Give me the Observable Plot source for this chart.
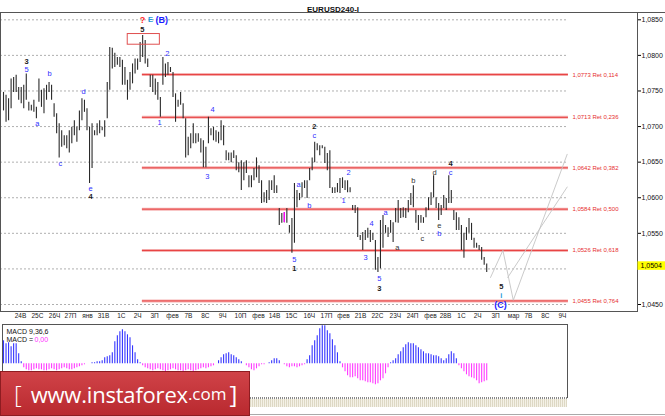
<!DOCTYPE html>
<html>
<head>
<meta charset="utf-8">
<script src="https://cdn.jsdelivr.net/npm/d3@7"></script>
<script src="https://cdn.jsdelivr.net/npm/@observablehq/plot@0.6"></script>
<style>
  body { margin: 0; background: #fff; font-family: "Liberation Sans", Arial, sans-serif; }
  #wrap { position: relative; width: 665px; height: 416px; overflow: hidden; background: #fff; }
  #price, #macd { position: absolute; left: 0; }
  #price { top: 0; }
  #macd { top: 322px; }
  #topline { position: absolute; left: 637px; top: 11.5px; width: 28px; height: 1px; background: #555; }
  #strip { position: absolute; left: 0; top: 397px; width: 567px; height: 10px;
    background: repeating-linear-gradient(90deg, #888 0 1px, #fff 1px 2px) top/100% 2px no-repeat,
                repeating-linear-gradient(90deg, #ddd8c4 0 1px, #f4f1e6 1px 2px); }
  #botline { position: absolute; left: 250px; top: 414px; width: 415px; height: 1px; background: #aaa; }
  #banner { position: absolute; left: 0; top: 371px; width: 250px; height: 45px; box-sizing: border-box;
    background: linear-gradient(#d04348, #b9292f); border: 1px solid #8e1c21; color: #fff;
    font-family: "Open Sans", "Liberation Sans", sans-serif; display: flex; align-items: center; padding-left: 13px; white-space: nowrap; }
  #banner .br { font-size: 24px; font-weight: 300; }
  #banner .www { font-size: 22px; margin-left: 9px; letter-spacing: -0.2px; }
  #banner .com { font-size: 17px; }
  #banner .br2 { font-size: 24px; margin-left: 3px; }
</style>
</head>
<body>
<div id="wrap">
  <div id="price"></div>
  <div id="topline"></div>
  <div id="macd"></div>
  <div id="strip"></div>
  <div id="botline"></div>
  <div id="banner"><span class="br">[</span><span class="www">www.instaforex</span><span class="com">.com</span><span class="br2">]</span></div>
</div>
<script>
// EURUSD 4h bars, highs and lows
const hi = [
  1.0748,1.0744,1.0739,1.0767,1.0769,1.0772,1.0755,1.0755,1.0758,1.0774,
  1.0734,1.0730,1.0737,1.0727,1.0767,1.0751,1.0753,1.0758,1.0762,1.0758,
  1.0732,1.0718,1.0704,1.0694,1.0687,1.0687,1.0694,1.0699,1.0708,1.0699,
  1.0722,1.0739,1.0737,1.0725,1.0699,1.0704,1.0694,1.0704,1.0708,1.0699,
  1.0708,1.0762,1.0811,1.0810,1.0803,1.0797,1.0797,1.0793,1.0783,1.0765,
  1.0776,1.0788,1.0795,1.0795,1.0818,1.0828,1.0821,1.0795,1.0772,1.0772,
  1.0767,1.0762,1.0741,1.0797,1.0788,1.0790,1.0783,1.0776,1.0746,1.0737,
  1.0748,1.0732,1.0711,1.0685,1.0690,1.0704,1.0690,1.0690,1.0683,1.0680,
  1.0671,1.0713,1.0697,1.0699,1.0694,1.0692,1.0708,1.0701,1.0666,1.0663,
  1.0663,1.0666,1.0659,1.0649,1.0652,1.0649,1.0652,1.0631,1.0631,1.0641,
  1.0656,1.0645,1.0624,1.0607,1.0610,1.0624,1.0624,1.0631,1.0617,1.0585,
  1.0578,1.0579,1.0585,1.0561,1.0571,1.0620,1.0610,1.0606,1.0621,1.0624,
  1.0624,1.0641,1.0656,1.0678,1.0676,1.0673,1.0673,1.0671,1.0662,1.0666,
  1.0614,1.0614,1.0620,1.0627,1.0628,1.0624,1.0624,1.0614,1.0589,1.0589,
  1.0586,1.0547,1.0551,1.0554,1.0557,1.0554,1.0550,1.0540,1.0516,1.0568,
  1.0575,1.0561,1.0558,1.0568,1.0565,1.0585,1.0596,1.0585,1.0586,1.0585,
  1.0596,1.0606,1.0617,1.0582,1.0575,1.0575,1.0572,1.0586,1.0600,1.0607,
  1.0631,1.0600,1.0592,1.0589,1.0603,1.0599,1.0631,1.0610,1.0582,1.0579,
  1.0572,1.0561,1.0550,1.0558,1.0571,1.0564,1.0543,1.0536,1.0533,1.0530,
  1.0516,1.0507
];
const lo = [
  1.0722,1.0706,1.0708,1.0725,1.0748,1.0748,1.0737,1.0732,1.0725,1.0737,
  1.0722,1.0722,1.0720,1.0711,1.0734,1.0727,1.0718,1.0737,1.0748,1.0737,
  1.0713,1.0690,1.0656,1.0671,1.0673,1.0669,1.0663,1.0676,1.0687,1.0678,
  1.0694,1.0708,1.0720,1.0694,1.0620,1.0641,1.0687,1.0687,1.0690,1.0694,
  1.0685,1.0711,1.0751,1.0781,1.0783,1.0786,1.0783,1.0758,1.0758,1.0737,
  1.0751,1.0760,1.0774,1.0779,1.0790,1.0797,1.0788,1.0783,1.0755,1.0748,
  1.0744,1.0737,1.0713,1.0758,1.0769,1.0772,1.0776,1.0741,1.0706,1.0727,
  1.0730,1.0711,1.0656,1.0659,1.0669,1.0676,1.0676,1.0678,1.0663,1.0642,
  1.0642,1.0676,1.0687,1.0680,1.0678,1.0676,1.0680,1.0673,1.0652,1.0652,
  1.0649,1.0655,1.0638,1.0635,1.0610,1.0624,1.0634,1.0614,1.0614,1.0624,
  1.0628,1.0620,1.0592,1.0593,1.0592,1.0596,1.0610,1.0606,1.0606,1.0561,
  1.0564,1.0565,1.0564,1.0550,1.0522,1.0536,1.0586,1.0596,1.0600,1.0613,
  1.0599,1.0624,1.0638,1.0649,1.0666,1.0659,1.0669,1.0648,1.0638,1.0613,
  1.0606,1.0606,1.0607,1.0606,1.0613,1.0610,1.0607,1.0607,1.0582,1.0578,
  1.0544,1.0540,1.0526,1.0540,1.0543,1.0537,1.0540,1.0498,1.0495,1.0500,
  1.0529,1.0550,1.0544,1.0550,1.0537,1.0565,1.0564,1.0571,1.0572,1.0571,
  1.0579,1.0589,1.0586,1.0564,1.0554,1.0564,1.0564,1.0572,1.0582,1.0589,
  1.0600,1.0585,1.0568,1.0575,1.0585,1.0582,1.0592,1.0592,1.0568,1.0554,
  1.0554,1.0526,1.0515,1.0540,1.0550,1.0540,1.0529,1.0529,1.0526,1.0512,
  1.0505,1.0495
];
const lastClose = 1.0504;
const markedBar = 111; // the one magenta bar

// MACD 9,36,6 histogram (x0.001)
const macd = [
  2.3,2.0,2.1,1.7,2.0,2.0,1.0,0.2,
  -0.4,-0.6,-0.7,-0.7,-0.6,-0.5,-0.6,-0.6,-0.7,-0.7,-0.6,-0.5,-0.6,-0.7,-0.6,-0.5,-0.4,-0.5,-0.6,-0.6,-0.5,-0.4,-0.3,-0.2,-0.1,0.0,
  0.0,0.1,0.1,0.2,0.2,0.3,0.6,0.7,0.8,1.1,2.2,2.8,3.2,3.4,3.2,2.9,2.6,1.8,1.1,0.4,0.1,
  -0.2,-0.4,-0.5,-0.6,-0.7,-0.6,-0.5,-0.6,-0.7,-0.8,-0.7,-0.6,-0.5,-0.6,-0.7,-0.7,-0.8,-0.7,-0.6,-0.7,-0.8,-0.7,-0.6,-0.5,-0.4,-0.5,-0.4,-0.3,-0.2,
  0.0,0.3,0.6,0.9,1.0,1.1,0.9,0.8,0.6,0.4,0.2,0.0,
  -0.2,-0.4,-0.6,-0.7,-0.5,-0.3,-0.1,-0.1,0.0,
  0.1,0.3,0.5,0.5,0.3,0.0,
  -0.1,-0.3,-0.4,-0.3,-0.3,-0.4,-0.3,-0.2,-0.1,
  0.4,0.8,1.8,2.3,2.8,3.5,3.8,3.8,3.3,3.0,2.4,1.8,1.1,0.2,
  -0.4,-0.8,-1.2,-1.4,-1.4,-1.3,-1.5,-1.7,-1.7,-1.8,-1.9,-1.9,-2.0,-2.1,-2.0,-1.7,-1.5,-1.0,-0.4,
  0.1,0.3,0.5,0.9,1.2,1.6,1.9,2.1,2.0,2.0,1.8,1.6,1.4,1.2,1.0,1.0,0.9,0.8,0.8,0.7,0.5,0.3,0.5,0.9,1.2,1.0,0.5,
  -0.2,-0.5,-0.8,-1.1,-1.3,-1.4,-1.5,-1.7,-2.0,-1.9,-1.8,-1.7
];

// time axis labels and the bar slot they sit on
const dayLabels = ["24В","25С","26Ч","27П","янв","31В","1С","2Ч","3П","фев","7В","8С","9Ч","10П","фев","14В","15С","16Ч","17П",
                   "фев","21В","22С","23Ч","24П","фев","28В","1С","2Ч","3П","мар","7В","8С","9Ч"];
const dayPos = [6.7,13.4,20.2,26.5,33.2,39.5,46.6,53.0,59.7,66.8,73.1,79.8,86.6,93.7,100.8,107.1,113.8,120.9,127.7,
                134.4,141.1,147.8,154.9,161.7,168.8,174.7,181.0,187.4,194.5,201.6,207.5,214.2,220.9];

const gridPrices = [1.0850,1.0800,1.0750,1.0700,1.0650,1.0600,1.0550,1.0500,1.0450];

// Fibonacci retracement levels
const fibPrice = [1.0773,1.0713,1.0642,1.0584,1.0526,1.0455];
const fibRet = [0.114,0.236,0.382,0.500,0.618,0.764];
const fibFromBar = 54.9, fibToBar = 223.3;

// wave marks
const waveText = ["3","5","a","b","c","d","e","4","?","E","(B)","5","1","2","4","3","2","c","a","b","5","1",
                  "2","1","3","4","5","3","a","a","b","c","d","e","b","c","4","5","i","(C)"];
const waveBar = [9.1,9.1,13.4,18.2,22.5,31.6,34.4,34.4,54.9,58.1,62.5,54.9,61.7,64.8,82.6,80.6,122.9,122.9,116.6,120.9,115,115,
                 136.4,134.4,143.1,145.5,148.6,148.6,151,155.7,162,165.6,170.4,172.3,172.3,176.7,176.7,196.8,196.8,196.4];
const wavePrice = [1.0791,1.0780,1.0704,1.0774,1.0648,1.0749,1.0613,1.0602,1.0850,1.0850,1.0849,1.0836,1.0706,1.0803,1.0724,1.0630,
                   1.0700,1.0687,1.0618,1.0589,1.0513,1.0500,1.0635,1.0596,1.0516,1.0564,1.0486,1.0472,1.0579,1.0530,1.0624,1.0543,
                   1.0635,1.0561,1.0550,1.0635,1.0648,1.0475,1.0463,1.0449];
const waveDegree = ["major","minor","minor","minor","minor","minor","minor","major","query","alt","primary","major",
                    "minor","minor","minor","minor","major","minor","minor","minor","minor","major",
                    "minor","minor","minor","minor","minor","major","minor","sub","sub","sub","sub","sub","minor",
                    "minor","major","major","alt","primary"];

// box round the top, and the projected path
const boxBar = [49.1, 61.8], boxPrice = [1.0830, 1.0815];
const projBar = [192.5, 197.4, 201.5, 222.8];
const projPrice = [1.0488, 1.0526, 1.0456, 1.0661];
const chanBar = [199.3, 222.8];
const chanPrice = [1.0488, 1.0615];

const bars = hi.map((h, i) => ({i, hi: h, lo: lo[i]}));
const macdData = macd.map((v, i) => ({i, v}));
const days = dayLabels.map((t, k) => ({t, i: dayPos[k]}));
const waves = waveText.map((t, k) => ({t, i: waveBar[k], p: wavePrice[k], deg: waveDegree[k]}));
const proj = projBar.map((b, k) => ({b, p: projPrice[k]}));
const chan = chanBar.map((b, k) => ({b, p: chanPrice[k]}));

const comma = (d, n) => d.toFixed(n).replace(".", ",");
const xDomain = [-1.19, 250.6];
const font = "Liberation Sans, Arial, sans-serif";

const degStyle = {
  minor:   {fill: "#2f2fff", fontWeight: "normal", fontSize: 7.5},
  sub:     {fill: "#333",    fontWeight: "normal", fontSize: 7.5},
  major:   {fill: "#1a1a1a", fontWeight: "bold",   fontSize: 7.5},
  query:   {fill: "#ff2a2a", fontWeight: "bold",   fontSize: 9},
  alt:     {fill: "#1f9ad8", fontWeight: "bold",   fontSize: 7.5},
  primary: {fill: "#1c1cff", fontWeight: "bold",   fontSize: 9}
};
const waveMarks = Object.entries(degStyle).map(([deg, s]) =>
  Plot.text(waves.filter(w => w.deg === deg), {x: "i", y: "p", text: "t", ...s}));

// the yellow last-price box sits on the 1,0500 label
const axisTicks = gridPrices.filter(p => Math.abs(p - lastClose) > 0.001);

let chart_price = Plot.plot({
  width: 665, height: 322,
  marginTop: 12, marginRight: 28, marginBottom: 11, marginLeft: 0,
  style: {fontFamily: font, background: "#fff", overflow: "visible"},
  x: {domain: xDomain, range: [0, 637], axis: null},
  y: {domain: [1.0850, 1.0450], range: [19.3, 304]},
  marks: [
    Plot.ruleY(gridPrices, {x1: xDomain[0], x2: fibToBar, stroke: "#9a9a9a", strokeWidth: 0.8, strokeDasharray: "2,2"}),
    Plot.ruleY(fibPrice, {x1: fibFromBar, x2: fibToBar, stroke: "#f6b4b4", strokeWidth: 3}),
    Plot.ruleY(fibPrice, {x1: fibFromBar, x2: fibToBar, stroke: "#e63a3a", strokeWidth: 1}),
    Plot.text(fibPrice, {x: fibToBar, y: d => d, text: (d, k) => `${comma(d, 4)} Ret ${comma(fibRet[k], 3)}`,
      dx: 4, textAnchor: "start", fill: "#e62e2e", fontSize: 6}),
    Plot.line(proj, {x: "b", y: "p", stroke: "#c4c4c4", strokeWidth: 0.9}),
    Plot.line(chan, {x: "b", y: "p", stroke: "#c4c4c4", strokeWidth: 0.9}),
    Plot.ruleX(bars, {x: "i", y1: "lo", y2: "hi", stroke: "#2a2a2a", strokeWidth: 1.1}),
    Plot.ruleX([bars[markedBar]], {x: "i", y1: "lo", y2: "hi", stroke: "#ff00ff", strokeWidth: 1.4}),
    Plot.rect([0], {x1: boxBar[0], x2: boxBar[1], y1: boxPrice[0], y2: boxPrice[1], fill: "none", stroke: "#e05050"}),
    ...waveMarks,
    Plot.frame({stroke: "#555"}),
    Plot.axisY({anchor: "right", ticks: axisTicks, tickFormat: d => comma(d, 4), tickSize: 3, tickPadding: 1,
      fontSize: 7, fill: "#111"}),
    Plot.rect([lastClose], {x1: xDomain[1] + 0.2, x2: xDomain[1] + 11.2, y1: d => d - 0.0006, y2: d => d + 0.0006, fill: "#ffff00"}),
    Plot.text([lastClose], {x: xDomain[1], y: d => d, text: d => comma(d, 4), dx: 3, textAnchor: "start", fontSize: 7, fill: "#000"}),
    Plot.text(days, {x: "i", text: "t", frameAnchor: "bottom", dy: 6, fontSize: 6.5, fill: "#222"}),
    Plot.text(["EURUSD240-I"], {frameAnchor: "top", dx: 14, dy: -6.5, fontWeight: "bold", fontSize: 8, fill: "#111"})
  ]
});
d3.select("#price").append(() => chart_price);

let chart_macd = Plot.plot({
  width: 665, height: 94,
  marginTop: 2, marginRight: 98, marginBottom: 19, marginLeft: 2,
  style: {fontFamily: font, background: "transparent", overflow: "visible"},
  x: {domain: xDomain, range: [0, 637], axis: null},
  y: {domain: [-2.5, 4], range: [66.3, 1.3], axis: null},
  color: {type: "identity"},
  marks: [
    Plot.frame({stroke: "#555", fill: "#fff"}),
    Plot.ruleX(macdData, {x: "i", y1: 0, y2: "v", stroke: d => d.v >= 0 ? "#3535ff" : "#ff3cff", strokeWidth: 1.1}),
    Plot.text(["MACD 9,36,6"], {frameAnchor: "top-left", dx: 4, dy: 5, fontSize: 7, fill: "#111", textAnchor: "start"}),
    Plot.text(["MACD ="], {frameAnchor: "top-left", dx: 4, dy: 13, fontSize: 7, fill: "#111", textAnchor: "start"}),
    Plot.text(["0,00"], {frameAnchor: "top-left", dx: 32, dy: 13, fontSize: 7, fill: "#ff2cff", textAnchor: "start"})
  ]
});
d3.select("#macd").append(() => chart_macd);
</script>
</body>
</html>
